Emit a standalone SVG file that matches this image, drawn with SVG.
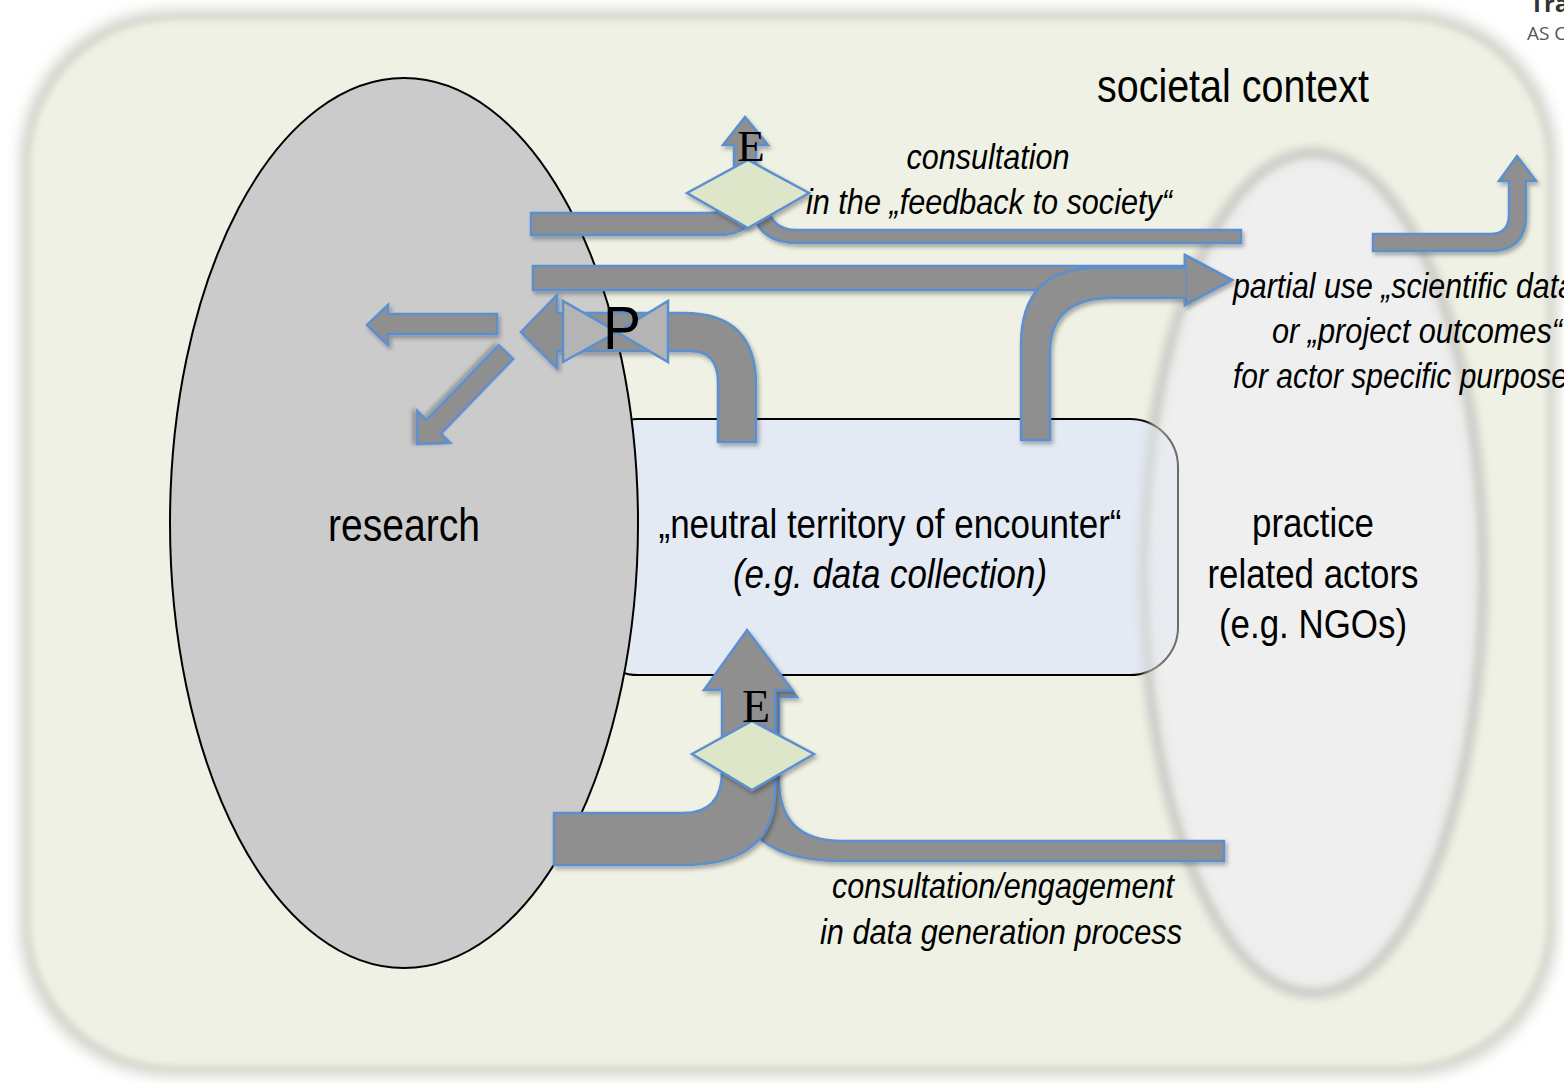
<svg xmlns="http://www.w3.org/2000/svg" width="1564" height="1083" viewBox="0 0 1564 1083">
<defs>
<filter id="bgsh" x="-5%" y="-5%" width="110%" height="110%"><feGaussianBlur stdDeviation="7"/></filter>
<filter id="soft" x="-5%" y="-5%" width="110%" height="110%"><feGaussianBlur stdDeviation="3"/></filter>
<filter id="edge" x="-10%" y="-10%" width="120%" height="120%"><feGaussianBlur stdDeviation="5"/></filter>
<filter id="ds" x="-10%" y="-10%" width="130%" height="130%"><feDropShadow dx="2" dy="3" stdDeviation="2" flood-color="#000" flood-opacity="0.3"/></filter>
<style>
.ar{fill:#8f8f8f;stroke:#5b8fd0;stroke-width:2.5;stroke-linejoin:miter;filter:url(#ds)}
.dia{fill:#dde6c9;stroke:#5b8fd0;stroke-width:2.5;filter:url(#ds)}
.valve{fill:#b4b4b4;stroke:#5b8fd0;stroke-width:2.5}
.t{font-family:"Liberation Sans",Arial,sans-serif;fill:#000;text-anchor:middle}
.s{text-anchor:start}
.i{font-style:italic}
.e{font-family:"Liberation Serif","Times New Roman",serif;fill:#000;text-anchor:middle}
</style>
</defs>

<g id="background">
<rect x="20" y="10" width="1537" height="1066" rx="150" fill="#d3d4cb" filter="url(#bgsh)"/>
<rect x="30" y="20" width="1517" height="1046" rx="145" fill="#eef1e3" filter="url(#soft)"/>
</g>

<g id="practice-base">
<ellipse cx="1313" cy="573" rx="168" ry="418" fill="none" stroke="#cfcfca" stroke-width="12" filter="url(#edge)"/>
<ellipse cx="1313" cy="573" rx="164" ry="414" fill="#efefef" filter="url(#soft)"/>
</g>

<g id="neutral">
<rect x="590" y="419" width="588" height="256" rx="48" fill="#e3eaf4" stroke="#000" stroke-width="2"/>
</g>

<g id="practice-overlay">
<ellipse cx="1313" cy="573" rx="168" ry="418" fill="none" stroke="#cfcfca" stroke-width="12" opacity="0.7" filter="url(#edge)"/>
<ellipse cx="1313" cy="573" rx="164" ry="414" fill="#efefef" opacity="0.45" filter="url(#soft)"/>
</g>

<g id="research">
<ellipse cx="404" cy="523" rx="234" ry="445" fill="#cbcbcb" stroke="#000" stroke-width="2"/>
<text class="t" x="404" y="541" font-size="46" textLength="152" lengthAdjust="spacingAndGlyphs">research</text>
</g>

<g id="neutral-label">
<text class="t" x="890" y="538" font-size="40" textLength="463" lengthAdjust="spacingAndGlyphs">„neutral territory of encounter“</text>
<text class="t i" x="890" y="588" font-size="40" textLength="314" lengthAdjust="spacingAndGlyphs">(e.g. data collection)</text>
</g>

<g id="practice-label">
<text class="t" x="1313" y="537" font-size="40" textLength="122" lengthAdjust="spacingAndGlyphs">practice</text>
<text class="t" x="1313" y="588" font-size="40" textLength="211" lengthAdjust="spacingAndGlyphs">related actors</text>
<text class="t" x="1313" y="638" font-size="40" textLength="188" lengthAdjust="spacingAndGlyphs">(e.g. NGOs)</text>
</g>

<g id="connectors">
<path class="ar" d="M1241,230 H796 Q772,230 766,205 L752,205 Q756,243 796,243 H1241 Z"/>
<path class="ar" d="M531,213 H708 Q734,213 734,190 V145 H723 L745,117 L768,145 H756 V200 Q756,235 718,235 H531 Z"/>
<path class="ar" d="M533,266 H1185 V255 L1232,280 L1185,305 V290 H533 Z"/>
<path class="ar" d="M1021,440 V345 Q1021,268 1096,268 H1187 V298 H1112 Q1050,298 1050,352 V440 Z"/>
<polygon points="1187,266 1187,257 1228,280 1187,303 1187,290" fill="#8f8f8f"/>
<polyline points="1185,267 1185,255 1232,280 1185,305 1185,297" fill="none" stroke="#5b8fd0" stroke-width="2.5"/>
<path class="ar" d="M756,442 V385 Q756,313 684,313 H557 V295 L521,332 L557,368 V351 H690 Q718,351 718,382 V442 Z"/>
<path class="ar" d="M497,314 H388 V305 L367,325 L388,345 V334 H497 Z"/>
<path class="ar" transform="translate(506,352) rotate(134)" d="M0,-10 H104 V-23 L128,0 L104,23 V10 H0 Z"/>
<path class="ar" d="M1224,841 H842 Q779,841 779,780 V697 H797 L752,640 L742,700 V800 Q748,861 842,861 H1224 Z"/>
<path class="ar" d="M554,813 H683 Q722,813 722,772 V690 H704 L747,630 L792,690 H775 V790 Q775,865 683,865 H554 Z"/>
<path class="ar" d="M1373,234 H1490 Q1509,234 1509,215 V181 H1499 L1517,156 L1536,181 H1526 V215 Q1526,251 1490,251 H1373 Z"/>
</g>

<g id="diamond-top">
<polygon class="dia" points="687,193 748,160 809,193 748,228"/>
<text class="e" x="751" y="161" font-size="45">E</text>
</g>

<g id="diamond-bottom">
<polygon class="dia" points="692,754 752,721 814,754 752,790"/>
<text class="e" x="756" y="722" font-size="46">E</text>
</g>

<g id="valve">
<polygon class="valve" points="563,301 563,362 617,332"/>
<polygon class="valve" points="668,301 668,362 617,332"/>
<text class="t" x="622" y="349" font-size="62" textLength="38" lengthAdjust="spacingAndGlyphs">P</text>
</g>

<g id="labels">
<text class="t" x="1233" y="102" font-size="46" textLength="272" lengthAdjust="spacingAndGlyphs">societal context</text>
<text class="t i" x="988" y="169" font-size="35" textLength="163" lengthAdjust="spacingAndGlyphs">consultation</text>
<text class="t i" x="989" y="214" font-size="35" textLength="366" lengthAdjust="spacingAndGlyphs">in the „feedback to society“</text>
<text class="t i s" x="1233" y="298" font-size="35" textLength="352" lengthAdjust="spacingAndGlyphs">partial use „scientific data“</text>
<text class="t i s" x="1272" y="343" font-size="35" textLength="290" lengthAdjust="spacingAndGlyphs">or „project outcomes“</text>
<text class="t i s" x="1233" y="388" font-size="35" textLength="350" lengthAdjust="spacingAndGlyphs">for actor specific purposes</text>
<text class="t i" x="1003" y="898" font-size="35" textLength="342" lengthAdjust="spacingAndGlyphs">consultation/engagement</text>
<text class="t i" x="1001" y="944" font-size="35" textLength="362" lengthAdjust="spacingAndGlyphs">in data generation process</text>
</g>

<g id="corner-brand">
<text x="1530" y="12" font-family="'Open Sans',sans-serif" font-weight="bold" font-size="24" fill="#333">Tra</text>
<text x="1527" y="40" font-family="'Open Sans',sans-serif" font-size="19" fill="#555">AS C</text>
</g>
</svg>
